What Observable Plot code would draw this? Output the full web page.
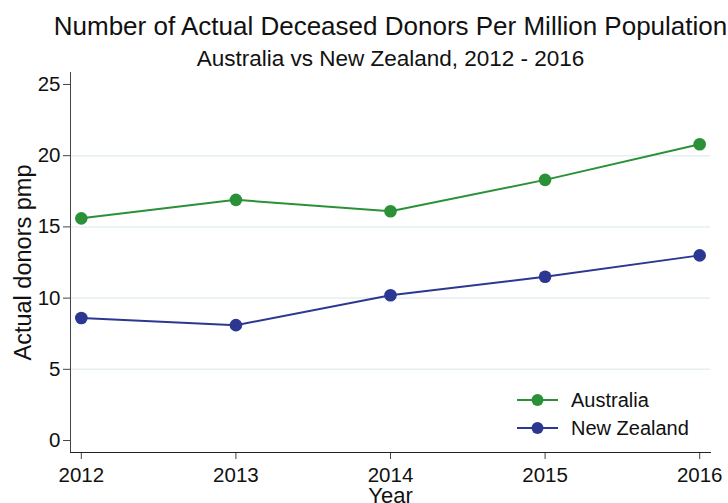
<!DOCTYPE html>
<html><head><meta charset="utf-8">
<script src="https://cdn.jsdelivr.net/npm/d3@7"></script>
<script src="https://cdn.jsdelivr.net/npm/@observablehq/plot@0.6"></script>
<style>
body{margin:0;background:#fff;font-family:"Liberation Sans",Arial,sans-serif;}
#wrap{position:relative;width:728px;height:503px;overflow:hidden;}
</style></head>
<body><div id="wrap"></div>
<script>
const years = [2012, 2013, 2014, 2015, 2016];
const australia = [15.6, 16.9, 16.1, 18.3, 20.8];
const newZealand = [8.6, 8.1, 10.2, 11.5, 13.0];
const yTicks = [0, 5, 10, 15, 20, 25];
const gridValues = [5, 10, 15, 20];
const seriesNames = ["Australia", "New Zealand"];
const colors = ["#2a9139", "#2b3791"];
const title = "Number of Actual Deceased Donors Per Million Population";
const subtitle = "Australia vs New Zealand, 2012 - 2016";
const yLabel = "Actual donors pmp";
const xLabel = "Year";

const data = [
  ...years.map((y, i) => ({year: y, value: australia[i], series: seriesNames[0]})),
  ...years.map((y, i) => ({year: y, value: newZealand[i], series: seriesNames[1]}))
];

const font = "Liberation Sans, Arial, sans-serif";
const chart = Plot.plot({
  width: 728, height: 503,
  marginTop: 72, marginLeft: 70, marginRight: 18, marginBottom: 51,
  style: {fontFamily: font, fontSize: "20px", color: "#111", background: "#fff"},
  x: {domain: [2011.93, 2016.07], label: null},
  y: {domain: [-0.84, 25.84], label: null},
  color: {domain: seriesNames, range: colors},
  marks: [
    Plot.ruleY(gridValues, {stroke: "#e6eff0", strokeWidth: 1.5}),
    Plot.axisY({ticks: yTicks, tickSize: 7, tickPadding: 3, fontSize: 20.5, stroke: "#444", label: null}),
    Plot.axisX({ticks: years, tickFormat: d => String(d), tickSize: 7, tickPadding: 8, fontSize: 20.5, stroke: "#444", label: null}),
    Plot.frame({anchor: "left", stroke: "#444"}),
    Plot.frame({anchor: "bottom", stroke: "#222"}),
    Plot.line(data, {x: "year", y: "value", z: "series", stroke: "series", strokeWidth: 2}),
    Plot.dot(data, {x: "year", y: "value", fill: "series", r: 6.3}),
    Plot.text([title], {frameAnchor: "top", lineAnchor: "middle", dy: -46, fontSize: 26, fill: "#111", text: d => d}),
    Plot.text([subtitle], {frameAnchor: "top", lineAnchor: "middle", dy: -14, fontSize: 22.5, fill: "#111", text: d => d}),
    Plot.text([yLabel], {frameAnchor: "left", textAnchor: "middle", lineAnchor: "middle", dx: -47, rotate: -90, fontSize: 23.5, fill: "#111", text: d => d}),
    Plot.text([xLabel], {frameAnchor: "bottom", lineAnchor: "top", dy: 35, fontSize: 22, fill: "#111", text: d => d})
  ]
});
document.getElementById("wrap").appendChild(chart);

// Legend inside the plot area (bottom right)
const svg = d3.select(chart);
const lg = svg.append("g").attr("font-family", font).attr("font-size", 20).attr("text-anchor", "start");
seriesNames.forEach((name, i) => {
  const yy = 400 + i * 28;
  lg.append("line").attr("x1", 517).attr("x2", 558).attr("y1", yy).attr("y2", yy)
    .attr("stroke", colors[i]).attr("stroke-width", 2);
  lg.append("circle").attr("cx", 537.5).attr("cy", yy).attr("r", 6).attr("fill", colors[i]);
  lg.append("text").attr("x", 571).attr("y", yy).attr("dy", "0.35em").attr("fill", "#111").text(name);
});
</script>
</body></html>
